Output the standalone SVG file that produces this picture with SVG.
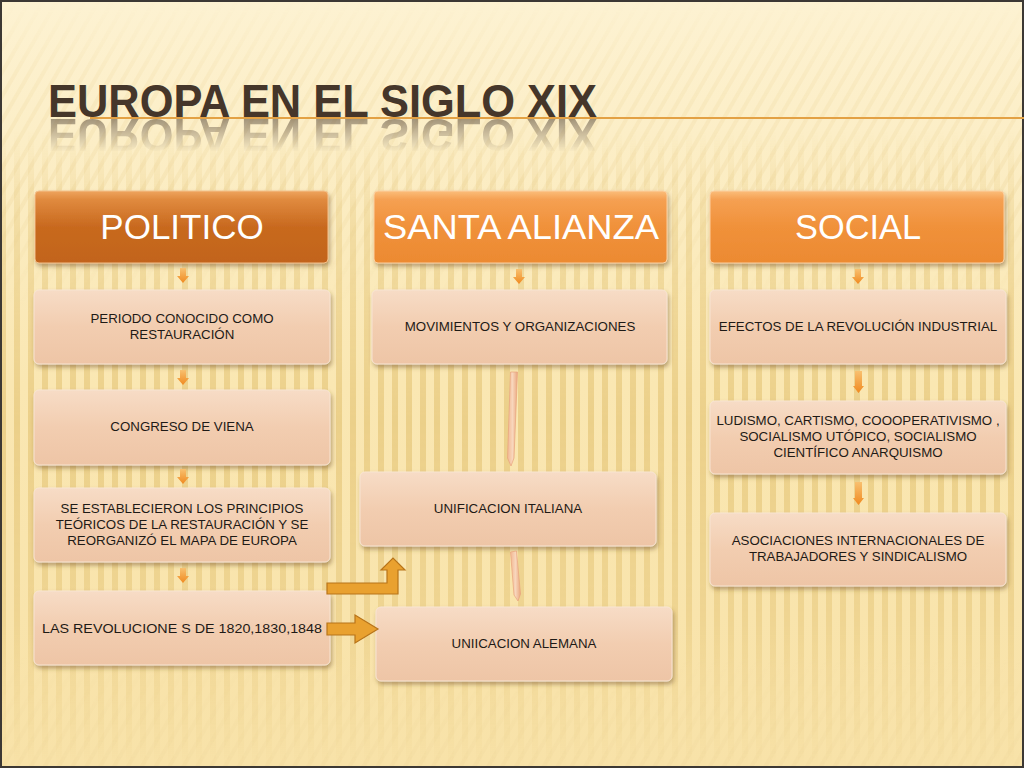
<svg xmlns="http://www.w3.org/2000/svg" xmlns:xlink="http://www.w3.org/1999/xlink" width="1024" height="768" viewBox="0 0 1024 768">
<defs>
  <style>
    .hdr { font-family: "Liberation Sans", Arial, sans-serif; font-size: 35px; fill: #ffffff; text-anchor: middle; }
    .lbl { font-family: "Liberation Sans", Arial, sans-serif; font-size: 13.3px; fill: #1e1a16; text-anchor: middle; }
    .box { fill: url(#boxGrad); stroke: #f8e4d2; stroke-width: 1; filter: url(#shadow); }
    .small { fill: url(#arrowGrad); }
    .blk { fill: #e9a12f; stroke: #b8741a; stroke-width: 1.2; }
  </style>
  <linearGradient id="bgGrad" x1="0" y1="0" x2="0" y2="1">
    <stop offset="0" stop-color="#fdf2d2"/>
    <stop offset="0.5" stop-color="#fae7b2"/>
    <stop offset="1" stop-color="#f8e2a8"/>
  </linearGradient>
  <pattern id="vStripes" width="14" height="20" patternUnits="userSpaceOnUse">
    <rect x="0" y="0" width="6" height="20" fill="#e2c170"/>
  </pattern>
  <pattern id="dStripes" width="12" height="12" patternUnits="userSpaceOnUse" patternTransform="rotate(30)">
    <rect x="0" y="0" width="4" height="12" fill="#ecd498"/>
  </pattern>
  <linearGradient id="vMaskGrad" x1="0" y1="0" x2="0" y2="768" gradientUnits="userSpaceOnUse">
    <stop offset="0" stop-color="#000"/>
    <stop offset="0.17" stop-color="#000"/>
    <stop offset="0.3" stop-color="#999"/>
    <stop offset="0.55" stop-color="#fff"/>
    <stop offset="0.8" stop-color="#bbb"/>
    <stop offset="0.95" stop-color="#333"/>
    <stop offset="1" stop-color="#000"/>
  </linearGradient>
  <mask id="vMask"><rect width="1024" height="768" fill="url(#vMaskGrad)"/></mask>
  <linearGradient id="dMaskGrad" x1="0" y1="0" x2="0" y2="768" gradientUnits="userSpaceOnUse">
    <stop offset="0" stop-color="#000"/>
    <stop offset="0.1" stop-color="#555"/>
    <stop offset="0.25" stop-color="#777"/>
    <stop offset="0.4" stop-color="#000"/>
    <stop offset="0.85" stop-color="#000"/>
    <stop offset="1" stop-color="#666"/>
  </linearGradient>
  <mask id="dMask"><rect width="1024" height="768" fill="url(#dMaskGrad)"/></mask>
  <linearGradient id="hdrDark" x1="0" y1="0" x2="0" y2="1">
    <stop offset="0" stop-color="#eea45e"/>
    <stop offset="0.12" stop-color="#e08a3e"/>
    <stop offset="0.5" stop-color="#c8691f"/>
    <stop offset="1" stop-color="#c2641c"/>
  </linearGradient>
  <linearGradient id="hdrLight" x1="0" y1="0" x2="0" y2="1">
    <stop offset="0" stop-color="#fbbd7a"/>
    <stop offset="0.12" stop-color="#f5a052"/>
    <stop offset="0.5" stop-color="#f0913a"/>
    <stop offset="1" stop-color="#ec8a32"/>
  </linearGradient>
  <linearGradient id="boxGrad" x1="0" y1="0" x2="0" y2="1">
    <stop offset="0" stop-color="#f7dcc6"/>
    <stop offset="0.5" stop-color="#f2cdb0"/>
    <stop offset="1" stop-color="#eec5a6"/>
  </linearGradient>
  <linearGradient id="arrowGrad" x1="0" y1="0" x2="0" y2="1">
    <stop offset="0" stop-color="#f8c070"/>
    <stop offset="1" stop-color="#f08a20"/>
  </linearGradient>
  <linearGradient id="peachGrad" x1="0" y1="0" x2="1" y2="0">
    <stop offset="0" stop-color="#f2b892"/>
    <stop offset="0.5" stop-color="#f8d6bc"/>
    <stop offset="1" stop-color="#eaa880"/>
  </linearGradient>
  <filter id="shadow" x="-5%" y="-10%" width="112%" height="130%">
    <feDropShadow dx="1.5" dy="3" stdDeviation="2" flood-color="#6b4a20" flood-opacity="0.45"/>
  </filter>
  <linearGradient id="reflGrad" x1="0" y1="118" x2="0" y2="152" gradientUnits="userSpaceOnUse">
    <stop offset="0" stop-color="#fff" stop-opacity="0.5"/>
    <stop offset="1" stop-color="#fff" stop-opacity="0"/>
  </linearGradient>
  <mask id="reflMask" maskUnits="userSpaceOnUse" x="0" y="0" width="1024" height="768"><rect x="0" y="118" width="1024" height="40" fill="url(#reflGrad)"/></mask>
</defs>

<!-- background -->
<rect width="1024" height="768" fill="url(#bgGrad)"/>
<rect width="1024" height="768" fill="url(#dStripes)" mask="url(#dMask)" opacity="0.6"/>
<rect width="1024" height="768" fill="url(#vStripes)" mask="url(#vMask)" opacity="0.6"/>
<rect x="1" y="1" width="1022" height="766" fill="none" stroke="#3c3834" stroke-width="2"/>

<!-- title -->
<g id="title">
  <line x1="90" y1="118" x2="1024" y2="118" stroke="#e3a144" stroke-width="2"/>
  <text id="titleText" x="48" y="117" textLength="549" lengthAdjust="spacingAndGlyphs" font-family="'Liberation Sans', Arial, sans-serif" font-weight="bold" font-size="47" fill="#45362a">EUROPA EN EL SIGLO XIX</text>
  <g mask="url(#reflMask)">
    <use xlink:href="#titleText" href="#titleText" transform="translate(0,236) scale(1,-1)"/>
  </g>
</g>

<!-- headers -->
<g id="hdr-politico">
  <rect x="35" y="191" width="293" height="72" rx="4" fill="url(#hdrDark)" stroke="#f3c08a" stroke-width="1" filter="url(#shadow)"/>
  <text class="hdr" x="182" y="239">POLITICO</text>
</g>
<g id="hdr-santa">
  <rect x="374" y="191" width="293" height="72" rx="4" fill="url(#hdrLight)" stroke="#fbd0a0" stroke-width="1" filter="url(#shadow)"/>
  <text class="hdr" x="521" y="239" textLength="276" lengthAdjust="spacingAndGlyphs">SANTA ALIANZA</text>
</g>
<g id="hdr-social">
  <rect x="710" y="191" width="294" height="72" rx="4" fill="url(#hdrLight)" stroke="#fbd0a0" stroke-width="1" filter="url(#shadow)"/>
  <text class="hdr" x="858" y="239" textLength="126" lengthAdjust="spacingAndGlyphs">SOCIAL</text>
</g>

<!-- left column -->
<g id="n-periodo">
  <rect class="box" x="34" y="290" width="296" height="74" rx="5"/>
  <text class="lbl" x="182" y="323">PERIODO CONOCIDO COMO</text>
  <text class="lbl" x="182" y="339">RESTAURACIÓN</text>
</g>
<g id="n-congreso">
  <rect class="box" x="34" y="390" width="296" height="75" rx="5"/>
  <text class="lbl" x="182" y="431">CONGRESO DE VIENA</text>
</g>
<g id="n-establecieron">
  <rect class="box" x="34" y="488" width="296" height="74" rx="5"/>
  <text class="lbl" x="182" y="513">SE ESTABLECIERON LOS PRINCIPIOS</text>
  <text class="lbl" x="182" y="529">TEÓRICOS DE LA RESTAURACIÓN Y SE</text>
  <text class="lbl" x="182" y="545">REORGANIZÓ EL MAPA DE EUROPA</text>
</g>
<g id="n-revoluciones">
  <rect class="box" x="34" y="591" width="296" height="74" rx="5"/>
  <text class="lbl" x="182" y="633" textLength="280" lengthAdjust="spacingAndGlyphs">LAS REVOLUCIONE S DE 1820,1830,1848</text>
</g>

<!-- middle column -->
<g id="n-movimientos">
  <rect class="box" x="372" y="290" width="295" height="74" rx="5"/>
  <text class="lbl" x="520" y="331">MOVIMIENTOS Y ORGANIZACIONES</text>
</g>
<g id="n-italiana">
  <rect class="box" x="360" y="472" width="296" height="74" rx="5"/>
  <text class="lbl" x="508" y="513">UNIFICACION ITALIANA</text>
</g>
<g id="n-alemana">
  <rect class="box" x="376" y="607" width="296" height="74" rx="5"/>
  <text class="lbl" x="524" y="648">UNIICACION ALEMANA</text>
</g>

<!-- right column -->
<g id="n-efectos">
  <rect class="box" x="710" y="290" width="296" height="74" rx="5"/>
  <text class="lbl" x="858" y="331">EFECTOS DE LA REVOLUCIÓN INDUSTRIAL</text>
</g>
<g id="n-ludismo">
  <rect class="box" x="710" y="401" width="296" height="73" rx="5"/>
  <text class="lbl" x="858" y="425">LUDISMO, CARTISMO, COOOPERATIVISMO ,</text>
  <text class="lbl" x="858" y="441">SOCIALISMO UTÓPICO, SOCIALISMO</text>
  <text class="lbl" x="858" y="457">CIENTÍFICO ANARQUISMO</text>
</g>
<g id="n-asociaciones">
  <rect class="box" x="710" y="513" width="296" height="73" rx="5"/>
  <text class="lbl" x="858" y="545">ASOCIACIONES INTERNACIONALES DE</text>
  <text class="lbl" x="858" y="561">TRABAJADORES Y SINDICALISMO</text>
</g>

<!-- connectors -->
<g id="connectors">
  <path class="small" d="M180,268 h6 v8 h3 l-6,7 l-6,-7 h3 z"/>
  <path class="small" d="M180,370 h6 v8 h3 l-6,7 l-6,-7 h3 z"/>
  <path class="small" d="M180,469 h6 v8 h3 l-6,7 l-6,-7 h3 z"/>
  <path class="small" d="M180,568 h6 v8 h3 l-6,7 l-6,-7 h3 z"/>
  <path class="small" d="M516,269 h6 v8 h3 l-6,7 l-6,-7 h3 z"/>
  <path class="small" d="M855,269 h6 v8 h3 l-6,7 l-6,-7 h3 z"/>
  <path class="small" d="M855,371 h7 v15 h2 l-5.5,7 l-5.5,-7 h2 z"/>
  <path class="small" d="M855,482 h7 v16 h2 l-5.5,7 l-5.5,-7 h2 z"/>
  <path d="M510.5,372 L517.5,372 L514,458 L511,466 L507.5,458 Z" fill="url(#peachGrad)" stroke="#e8a47c" stroke-width="0.7"/>
  <path d="M510.5,552 L516.5,551 L520.5,594 L518,601 L514,595 Z" fill="url(#peachGrad)" stroke="#e8a47c" stroke-width="0.7"/>
  <path class="blk" d="M327,583 L387,583 L387,570 L381,570 L393,558 L405,570 L398,570 L398,594 L327,594 Z"/>
  <path class="blk" d="M327,623 L355,623 L355,615 L378,629 L355,643 L355,635 L327,635 Z"/>
</g>
</svg>
